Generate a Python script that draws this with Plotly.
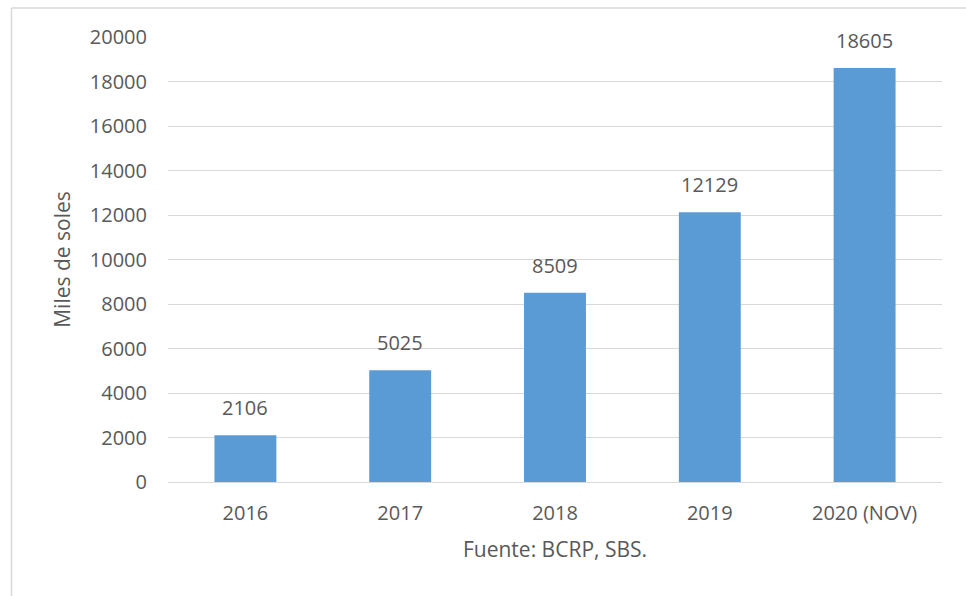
import plotly.graph_objects as go

categories = ["2016", "2017", "2018", "2019", "2020 (NOV)"]
values = [2106, 5025, 8509, 12129, 18605]
y_ticks = [0, 2000, 4000, 6000, 8000, 10000, 12000, 14000, 16000, 18000, 20000]
y_tick_labels = [str(t) for t in y_ticks]

FONT = "Open Sans"
TXT = "#595959"
GRID = "#d9d9d9"

xpos = list(range(len(categories)))

fig = go.Figure()
fig.add_trace(go.Bar(x=xpos, y=values, marker=dict(color="#5b9bd5", line=dict(width=0)),
                     width=0.4, customdata=categories, hovertemplate="%{customdata}: %{y}<extra></extra>"))

for xp, v in zip(xpos, values):
    fig.add_annotation(x=xp, y=v, text=str(v), showarrow=False, yanchor="bottom",
                       yshift=12, font=dict(family=FONT, size=20, color=TXT))

fig.update_layout(
    width=966, height=596,
    margin=dict(l=168, r=24, t=37, b=114, autoexpand=False),
    paper_bgcolor="white", plot_bgcolor="white",
    showlegend=False,
    font=dict(family=FONT, size=20, color=TXT),
    xaxis=dict(range=[-0.5, len(categories) - 0.5], tickvals=xpos, ticktext=categories,
               showgrid=False, showline=False, zeroline=False, ticks="", ticklabelstandoff=17,
               automargin=False,
               tickfont=dict(family=FONT, size=20, color=TXT),
               title=dict(text="Fuente: BCRP, SBS.", standoff=17,
                          font=dict(family=FONT, size=21, color=TXT))),
    yaxis=dict(range=[0, 20000], tickvals=y_ticks, ticktext=y_tick_labels,
               showgrid=True, gridcolor=GRID, gridwidth=1, automargin=False,
               zeroline=True, zerolinecolor=GRID, zerolinewidth=1, showline=False, ticks="",
               ticklabelstandoff=20,
               tickfont=dict(family=FONT, size=20, color=TXT),
               title=dict(text="Miles de soles", standoff=13,
                          font=dict(family=FONT, size=21, color=TXT))),
    shapes=[
        dict(type="line", xref="paper", yref="paper", x0=-0.2022, x1=-0.2022, y0=1.0652, y1=-0.27,
             line=dict(color=GRID, width=1.5)),
        dict(type="line", xref="paper", yref="paper", x0=-0.2022, x1=1.04, y0=1.0652, y1=1.0652,
             line=dict(color=GRID, width=1.5)),
    ],
)

fig.write_html("out.html", config={"displayModeBar": False},
               post_script="document.body.style.margin='0';")
